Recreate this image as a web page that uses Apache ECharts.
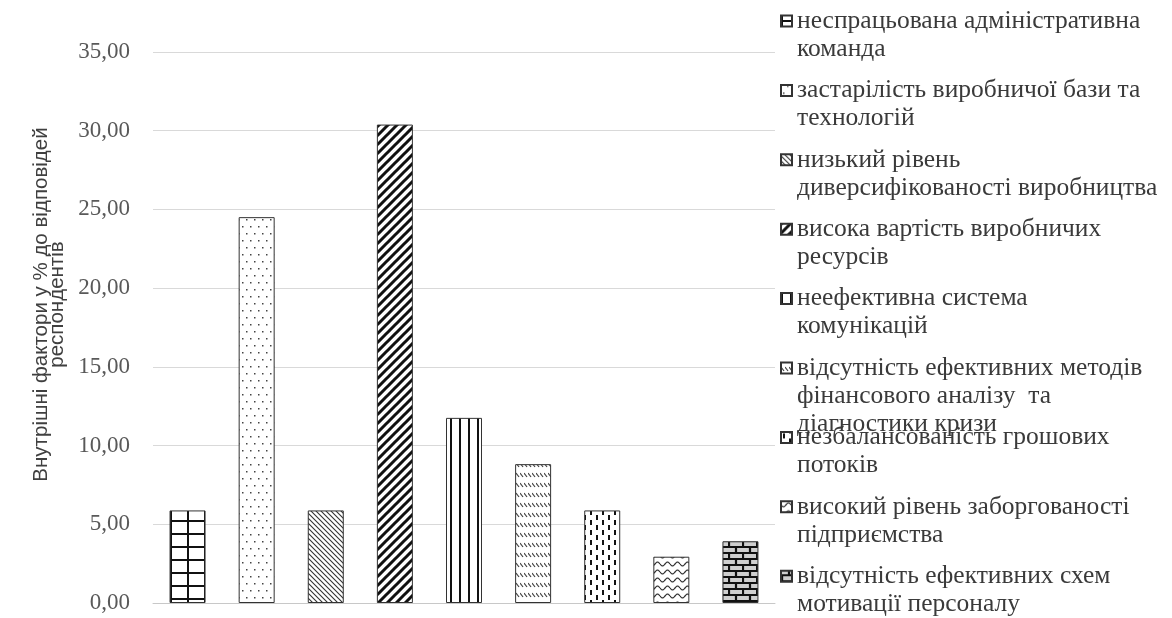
<!DOCTYPE html>
<html>
<head>
<meta charset="utf-8">
<script src="https://cdn.jsdelivr.net/npm/echarts@6/dist/echarts.min.js"></script>
<style>
  html, body { margin: 0; padding: 0; background: #fff; }
  #charts { width: 1172px; height: 618px; }
</style>
</head>
<body>
<div id="charts"></div>
<script>
// категорії (внутрішні фактори)
var factors = [
  "неспрацьована адміністративна\nкоманда",
  "застарілість виробничої бази та\nтехнологій",
  "низький рівень\nдиверсифікованості виробництва",
  "висока вартість виробничих\nресурсів",
  "неефективна система\nкомунікацій",
  "відсутність ефективних методів\nфінансового аналізу  та\nдіагностики кризи",
  "незбалансованість грошових\nпотоків",
  "високий рівень заборгованості\nпідприємства",
  "відсутність ефективних схем\nмотивації персоналу"
];
// % до відповідей респондентів
var shares = [5.88, 24.51, 5.88, 30.39, 11.76, 8.82, 5.88, 2.94, 3.92];
var patternKinds = ["grid", "dots", "thinDiag", "wideDiag", "vertical", "dashDiag", "dashVert", "wave", "brick"];

// візерунки заливки стовпців
function makePattern(kind) {
  var c = document.createElement("canvas");
  var sizes = {
    grid: [17, 13], dots: [8, 14], thinDiag: [5, 5], wideDiag: [9, 9],
    vertical: [9, 4], dashDiag: [4, 10], dashVert: [12, 10], wave: [10, 8], brick: [14, 12]
  };
  var w = sizes[kind][0], h = sizes[kind][1];
  c.width = w; c.height = h;
  var g = c.getContext("2d");
  g.fillStyle = "#fff";
  g.fillRect(0, 0, w, h);
  g.strokeStyle = "#111";
  g.fillStyle = "#222";
  if (kind === "grid") {
    g.lineWidth = 2;
    g.beginPath();
    g.moveTo(0, 1); g.lineTo(w, 1);
    g.moveTo(1, 0); g.lineTo(1, h);
    g.stroke();
  } else if (kind === "dots") {
    g.fillStyle = "#444";
    g.fillRect(2, 2, 1.5, 1.5);
    g.fillRect(6, 9, 1.5, 1.5);
  } else if (kind === "thinDiag") {
    g.strokeStyle = "#333";
    g.lineWidth = 1.1;
    g.beginPath();
    g.moveTo(-1, -1); g.lineTo(w + 1, h + 1);
    g.moveTo(-1, h - 1); g.lineTo(1, h + 1);
    g.moveTo(w - 1, -1); g.lineTo(w + 1, 1);
    g.stroke();
  } else if (kind === "wideDiag") {
    g.lineWidth = 3;
    g.beginPath();
    g.moveTo(-1, h + 1); g.lineTo(w + 1, -1);
    g.moveTo(-2, 2); g.lineTo(2, -2);
    g.moveTo(w - 2, h + 2); g.lineTo(w + 2, h - 2);
    g.stroke();
  } else if (kind === "vertical") {
    g.lineWidth = 2;
    g.beginPath();
    g.moveTo(1, 0); g.lineTo(1, h);
    g.stroke();
  } else if (kind === "dashDiag") {
    g.strokeStyle = "#444";
    g.lineWidth = 1.2;
    g.beginPath();
    g.moveTo(0, 3); g.lineTo(3, 7);
    g.stroke();
  } else if (kind === "dashVert") {
    g.lineWidth = 2;
    g.beginPath();
    g.moveTo(3, 0); g.lineTo(3, 5);
    g.moveTo(9, 5); g.lineTo(9, 10);
    g.stroke();
  } else if (kind === "wave") {
    g.strokeStyle = "#333";
    g.lineWidth = 1.2;
    g.beginPath();
    for (var x = 0; x <= w; x++) {
      var y = 4 + 2 * Math.sin(x / w * Math.PI * 2);
      if (x === 0) g.moveTo(x, y); else g.lineTo(x, y);
    }
    g.stroke();
  } else if (kind === "brick") {
    g.fillStyle = "#cfcfcf";
    g.fillRect(0, 0, w, h);
    g.lineWidth = 2.2;
    g.beginPath();
    g.moveTo(0, 1); g.lineTo(w, 1);
    g.moveTo(0, 7); g.lineTo(w, 7);
    g.moveTo(1, 1); g.lineTo(1, 7);
    g.moveTo(8, 7); g.lineTo(8, h);
    g.stroke();
  }
  return { image: c, repeat: "repeat" };
}

var myChart = echarts.init(document.getElementById("charts"), null, { renderer: "canvas" });

var series = factors.map(function (name, i) {
  return {
    name: name,
    type: "bar",
    stack: "all",
    barWidth: 36,
    itemStyle: {
      color: makePattern(patternKinds[i]),
      borderColor: "#333",
      borderWidth: 1
    },
    data: shares.map(function (v, j) { return j === i ? v : "-"; })
  };
});

// окрема легенда для кожного пункту, щоб зберегти однаковий крок;
// значок — квадрат біля першого рядка (порожні moveTo задають висоту рамки)
var lineH = 28;
var legends = factors.map(function (name, i) {
  var n = name.split("\n").length;
  var boxH = n * lineH;
  return {
    data: [name],
    orient: "vertical",
    left: 780,
    top: 6 + i * 69.4,
    padding: 0,
    icon: "path://M0,8.5H11V19.5H0Z M0,0 M11," + boxH,
    itemWidth: 11,
    itemHeight: boxH,
    selectedMode: false,
    textStyle: {
      fontFamily: "Liberation Serif",
      fontSize: 25.5,
      lineHeight: lineH,
      color: "#3a3a3a"
    }
  };
});

myChart.setOption({
  animation: false,
  backgroundColor: "#fff",
  grid: { left: 153, right: 397, top: 52, bottom: 15 },
  legend: legends,
  xAxis: {
    type: "category",
    data: factors,
    axisLine: { show: true, lineStyle: { color: "#c8c8c8", width: 1 } },
    axisTick: { show: false },
    axisLabel: { show: false }
  },
  yAxis: {
    type: "value",
    min: 0,
    max: 35,
    interval: 5,
    name: "Внутрішні фактори у % до відповідей\nреспондентів",
    nameLocation: "middle",
    nameRotate: 90,
    nameGap: 88,
    nameTextStyle: {
      fontFamily: "Liberation Sans",
      fontSize: 20.5,
      lineHeight: 16,
      color: "#404040",
      padding: [0, 0, 0, 46]
    },
    axisLine: { show: false },
    axisTick: { show: false },
    splitLine: { lineStyle: { color: "#d9d9d9", width: 1 } },
    axisLabel: {
      margin: 23,
      fontFamily: "Liberation Serif",
      fontSize: 23,
      color: "#595959",
      formatter: function (v) { return v.toFixed(2).replace(".", ","); }
    }
  },
  series: series
});
</script>
</body>
</html>
